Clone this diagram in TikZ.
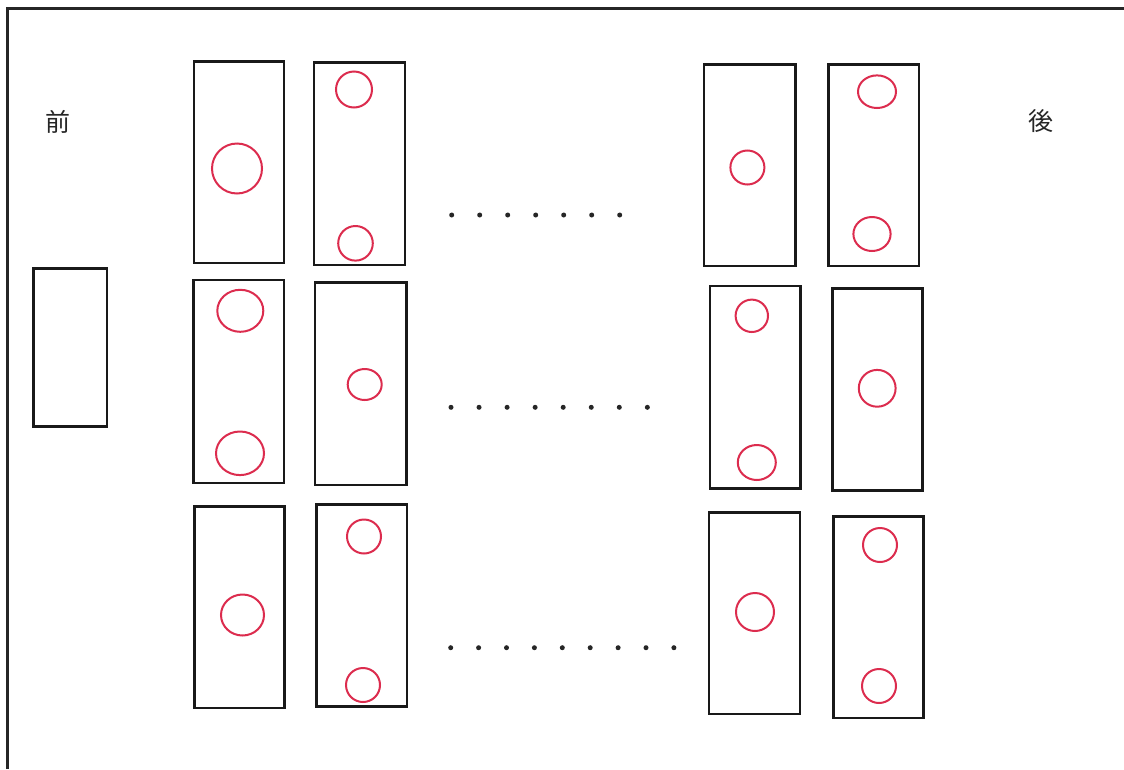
\documentclass[tikz,border=0pt]{standalone}
\usepackage{fontspec}
\newfontfamily\cjk{Noto Sans CJK JP}
\definecolor{penred}{HTML}{DC2C4E}
\tikzset{
  card/.style={draw=black!90, line width=2.4pt},
  ring/.style={draw=penred, line width=2pt},
  dotmark/.style={fill=black!85},
  lbl/.style={font=\cjk\fontsize{25}{25}\selectfont, text=black!85, inner sep=0pt}
}
\begin{document}
\begin{tikzpicture}[x=1pt,y=-1pt]
\useasboundingbox (0,0) rectangle (1124,769);
\fill[white] (0,0) rectangle (1124,769);
% frame (top and left edges)
\draw[line width=3.4pt, black!85] (7.5,769) -- (7.5,8.5) -- (1124,8.5);
% labels
\node[lbl] (mae) at (58,122) {前};
\node[lbl] (ato) at (1041,121) {後};
% left small box
\draw[card] (33.5,268.5) rectangle (107,426.5);
% row 1
\draw[card] (194,61.5) rectangle (284,263);
\draw[card] (314,62.5) rectangle (405,265);
\draw[card] (704,64.5) rectangle (795.5,266);
\draw[card] (828.5,64.5) rectangle (919,266);
\draw[ring] (237,168.5) circle (25);
\draw[ring] (354,89.5) circle (18);
\draw[ring] (355.5,243.3) circle (17.3);
\draw[ring] (747.4,167.5) circle (17);
\draw[ring] (877,91.7) circle [x radius=19, y radius=16.3];
\draw[ring] (872,234) circle [x radius=18.6, y radius=17];
% row 2
\draw[card] (193.5,280) rectangle (284,483);
\draw[card] (315,282.5) rectangle (406.5,485);
\draw[card] (710,286) rectangle (800.3,488.3);
\draw[card] (832.3,288.5) rectangle (922.3,490.5);
\draw[ring] (240.3,310.8) circle [x radius=23, y radius=21];
\draw[ring] (240,453.3) circle [x radius=24, y radius=21.8];
\draw[ring] (364.7,384.5) circle [x radius=17, y radius=15.5];
\draw[ring] (751.8,315.8) circle (16.2);
\draw[ring] (756.8,462.5) circle [x radius=19, y radius=17.5];
\draw[ring] (877.2,388.3) circle (18.4);
% row 3
\draw[card] (194.5,506.5) rectangle (284.5,707.7);
\draw[card] (316.5,504.5) rectangle (407,706.5);
\draw[card] (709,512.5) rectangle (800,714);
\draw[card] (833.5,516.5) rectangle (923.3,717.7);
\draw[ring] (242.5,615) circle [x radius=21.5, y radius=20.5];
\draw[ring] (364,536.5) circle (17);
\draw[ring] (363,685) circle (17);
\draw[ring] (755,612) circle (19);
\draw[ring] (880,545) circle (17);
\draw[ring] (879,686) circle (17);
% ellipsis dots
\foreach \i in {0,...,6} \fill[dotmark] (451.7+28*\i,215) circle (2.5);
\foreach \i in {0,...,7} \fill[dotmark] (451+28.05*\i,407.3) circle (2.5);
\foreach \i in {0,...,8} \fill[dotmark] (450.7+27.9*\i,647.7) circle (2.5);
\end{tikzpicture}
\end{document}
